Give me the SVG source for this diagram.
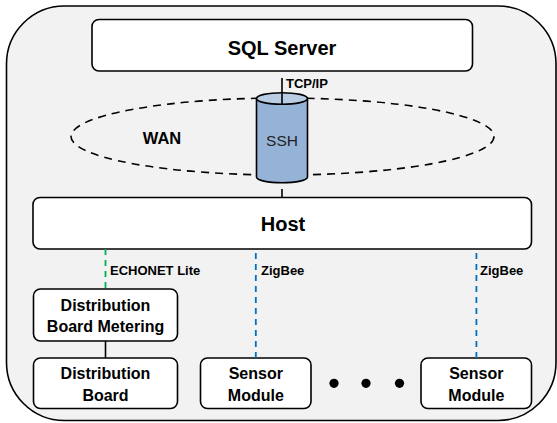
<svg xmlns="http://www.w3.org/2000/svg" width="557" height="423" viewBox="0 0 557 423">
<style>
.box{fill:#fff;stroke:#000;stroke-width:1.6}
.t{font-family:"Liberation Sans",Arial,sans-serif;font-weight:bold;fill:#000;text-anchor:middle}
.lbl{font-family:"Liberation Sans",Arial,sans-serif;font-weight:bold;fill:#000;font-size:13px}
.solid{stroke:#000;stroke-width:1.6;fill:none}
.zig{stroke:#0070c0;stroke-width:1.8;stroke-dasharray:6,5;fill:none}
.echo{stroke:#00b050;stroke-width:1.8;stroke-dasharray:6,5;fill:none}
</style>
<rect x="6.5" y="6" width="549.5" height="414.5" rx="58" ry="58" fill="#f2f2f2" stroke="#000" stroke-width="1.6"/>
<g id="wan">
<ellipse cx="282.5" cy="136.5" rx="211.5" ry="38.5" fill="none" stroke="#000" stroke-width="1.6" stroke-dasharray="8,6"/>
<text class="t" x="162" y="144" font-size="16.5">WAN</text>
</g>
<g id="sql">
<rect class="box" x="92" y="19.5" width="380.5" height="51.5" rx="7"/>
<text class="t" x="282" y="55" font-size="20">SQL Server</text>
</g>
<g id="ssh">
<path d="M256.5,98.5 V177 A25.5,5.8 0 0 0 307.5,177 V98.5" fill="#95b3d7" stroke="#000" stroke-width="1.6"/>
<ellipse cx="282" cy="98.5" rx="25.5" ry="5.8" fill="#b9cde5" stroke="#000" stroke-width="1.6"/>
<text x="282" y="146" font-family="'Liberation Sans',Arial,sans-serif" font-size="15.5" fill="#222" text-anchor="middle">SSH</text>
</g>
<g id="host">
<rect class="box" x="33" y="197.5" width="498.5" height="51.5" rx="7"/>
<text class="t" x="283" y="230.5" font-size="20">Host</text>
</g>
<g id="dbm">
<rect class="box" x="33.5" y="289" width="144" height="52" rx="7"/>
<text class="t" x="105.5" y="311" font-size="16">Distribution</text>
<text class="t" x="105.5" y="332" font-size="16">Board Metering</text>
</g>
<g id="db">
<rect class="box" x="33.5" y="358" width="144" height="50.5" rx="7"/>
<text class="t" x="105.5" y="379" font-size="16">Distribution</text>
<text class="t" x="105.5" y="401" font-size="16">Board</text>
</g>
<g id="sm1">
<rect class="box" x="200.5" y="358" width="110.5" height="50.5" rx="7"/>
<text class="t" x="255.8" y="379" font-size="16">Sensor</text>
<text class="t" x="255.8" y="401" font-size="16">Module</text>
</g>
<g id="sm2">
<rect class="box" x="421" y="358" width="110.5" height="50.5" rx="7"/>
<text class="t" x="476.3" y="379" font-size="16">Sensor</text>
<text class="t" x="476.3" y="401" font-size="16">Module</text>
</g>
<g id="dots">
<circle cx="334" cy="383.3" r="4.6" fill="#000"/>
<circle cx="366" cy="383.3" r="4.6" fill="#000"/>
<circle cx="399.5" cy="383.3" r="4.6" fill="#000"/>
</g>
<g id="connectors">
<line class="solid" x1="282" y1="78" x2="282" y2="104"/>
<text class="lbl" x="286" y="87.5">TCP/IP</text>
<line class="solid" x1="282" y1="189" x2="282" y2="197.5"/>
<line class="echo" x1="105.5" y1="249" x2="105.5" y2="289"/>
<text class="lbl" x="110" y="274.5">ECHONET Lite</text>
<line class="zig" x1="255.8" y1="253" x2="255.8" y2="358"/>
<text class="lbl" x="261" y="274.5">ZigBee</text>
<line class="zig" x1="476.4" y1="253" x2="476.4" y2="358"/>
<text class="lbl" x="480" y="274.5">ZigBee</text>
<line class="solid" x1="105.5" y1="341" x2="105.5" y2="358"/>
</g>
</svg>
